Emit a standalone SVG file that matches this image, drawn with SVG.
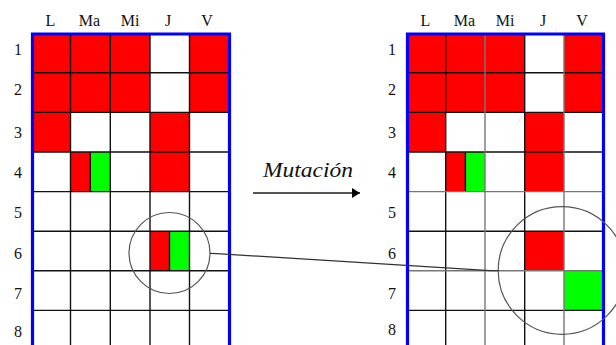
<svg xmlns="http://www.w3.org/2000/svg" width="616" height="345" viewBox="0 0 616 345">
<defs>
<style>
.lbl{font-family:"Liberation Serif","Times New Roman",serif;font-size:16px;fill:#111;text-anchor:middle}
.mut{font-family:"Liberation Serif","Times New Roman",serif;font-size:20px;font-style:italic;fill:#111}
.r{fill:#ff0000}
.g{fill:#00ff00}
.gl{stroke:#111;stroke-width:1.4;fill:none}
.gg{stroke:#777;stroke-width:1.4;fill:none}
.blue{stroke:#0000ff;stroke-width:3.2;fill:none}
.circ{stroke:#555;stroke-width:1.2;fill:none}
</style>
<marker id="ah" markerWidth="10" markerHeight="10" refX="8" refY="5" orient="auto" markerUnits="userSpaceOnUse">
<path d="M0,0 L8,5 L0,10 Z" fill="#000"/>
</marker>
</defs>
<rect width="616" height="345" fill="#fff"/>

<g id="left-grid">
<g class="cells">
<rect class="r" x="32.5" y="34" width="38" height="78.4"/>
<rect class="r" x="70.5" y="34" width="39.8" height="78.4"/>
<rect class="r" x="110.3" y="34" width="39.7" height="78.4"/>
<rect class="r" x="189.5" y="34" width="40" height="78.4"/>
<rect class="r" x="32.5" y="112.4" width="38" height="39.6"/>
<rect class="r" x="150" y="112.4" width="39.5" height="79.2"/>
<rect class="r" x="70.5" y="152" width="19.8" height="39.6"/>
<rect class="g" x="90.3" y="152" width="20" height="39.6"/>
<rect class="r" x="150" y="231.2" width="19.5" height="39.6"/>
<rect class="g" x="169.5" y="231.2" width="20" height="39.6"/>
</g>
<path class="gl" d="M70.5,34V345M110.3,34V345M150,34V345M189.5,34V345M32.5,72.8H229.5M32.5,112.4H229.5M32.5,152H229.5M32.5,191.6H229.5M32.5,231.2H229.5M32.5,270.8H229.5M32.5,310.4H229.5M90.3,152V191.6M169.5,231.2V270.8"/>
<path class="blue" d="M32.5,346V34H229.5V346"/>
<g class="lbl">
<text x="50.5" y="26">L</text><text x="89.5" y="26">Ma</text><text x="130" y="26">Mi</text><text x="168" y="26">J</text><text x="207" y="26">V</text>
<text x="18" y="55">1</text><text x="18" y="95">2</text><text x="18" y="137.5">3</text><text x="18" y="177.5">4</text><text x="18" y="217.5">5</text><text x="18" y="259">6</text><text x="18" y="299">7</text><text x="18" y="337">8</text>
</g>
</g>

<g id="right-grid">
<g class="cells">
<rect class="r" x="407.5" y="34" width="38.2" height="78.4"/>
<rect class="r" x="445.7" y="34" width="39.3" height="78.4"/>
<rect class="r" x="485" y="34" width="39.7" height="78.4"/>
<rect class="r" x="564" y="34" width="39.5" height="78.4"/>
<rect class="r" x="407.5" y="112.4" width="38.2" height="39.6"/>
<rect class="r" x="524.7" y="112.4" width="39.3" height="79.2"/>
<rect class="r" x="445.7" y="152" width="19.7" height="39.6"/>
<rect class="g" x="465.4" y="152" width="19.6" height="39.6"/>
<rect class="r" x="524.7" y="231.2" width="39.3" height="39.6"/>
<rect class="g" x="564" y="270.8" width="39.5" height="39.6"/>
</g>
<path class="gl" d="M445.7,34V345M524.7,34V345M407.5,72.8H603.5M407.5,112.4H603.5M407.5,152H603.5M407.5,231.2H603.5M407.5,310.4H603.5M465.4,152V191.6"/>
<path class="gg" d="M485,34V345M564,34V345M407.5,191.6H603.5M407.5,270.8H603.5"/>
<path class="blue" d="M407.5,346V34H603.5V346"/>
<g class="lbl">
<text x="425.5" y="26">L</text><text x="464.5" y="26">Ma</text><text x="505" y="26">Mi</text><text x="543" y="26">J</text><text x="582" y="26">V</text>
<text x="392" y="55">1</text><text x="392" y="95">2</text><text x="392" y="137.5">3</text><text x="392" y="177.5">4</text><text x="392" y="217.5">5</text><text x="392" y="259">6</text><text x="392" y="299">7</text><text x="392" y="335">8</text>
</g>
</g>

<g id="highlight-left"><circle class="circ" cx="169.5" cy="253" r="40.5"/></g>
<g id="highlight-right"><circle class="circ" cx="562" cy="270.5" r="63.8"/></g>

<g id="connectors">
<path d="M210,253.3 L216.7,253.6 L490,270.6 L498.3,270.6" stroke="#333" stroke-width="1.2" fill="none"/>
<path d="M253,193 L360,193" stroke="#555" stroke-width="2" fill="none" marker-end="url(#ah)"/>
</g>

<g id="mutation-label"><text class="mut" x="263" y="177" textLength="90" lengthAdjust="spacingAndGlyphs">Mutación</text></g>
</svg>
